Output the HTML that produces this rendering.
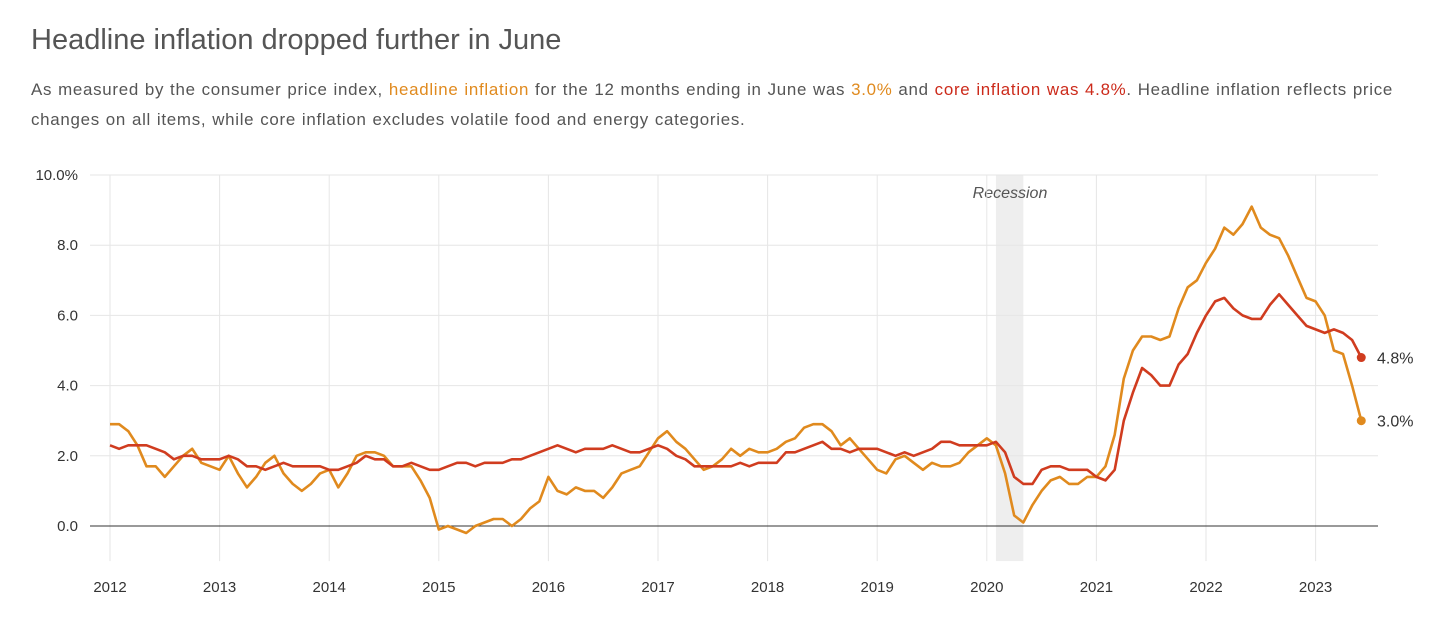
<!DOCTYPE html>
<html><head><meta charset="utf-8"><style>
body{margin:0;background:#fff;font-family:"Liberation Sans",sans-serif;}
#wrap{position:relative;width:1456px;height:628px;overflow:hidden}
h1{position:absolute;left:31px;top:24px;margin:0;font-weight:normal;font-size:29px;color:#555}
p{position:absolute;left:31px;top:75px;margin:0;width:1420px;white-space:nowrap;font-size:16.9px;letter-spacing:0.72px;word-spacing:0.5px;line-height:30px;color:#555}
.h{color:#e08a1e}.c{color:#cc2a1a}
svg{position:absolute;left:0;top:0}
</style></head><body><div id="wrap">
<h1>Headline inflation dropped further in June</h1>
<p>As measured by the consumer price index, <span class="h">headline inflation</span> for the 12 months ending in June was <span class="h">3.0%</span> and <span class="c">core inflation was 4.8%</span>. Headline inflation reflects price<br>changes on all items, while core inflation excludes volatile food and energy categories.</p>
<svg id="chart" width="1456" height="628"></svg>
</div>
<script>
const years=[2012,2013,2014,2015,2016,2017,2018,2019,2020,2021,2022,2023];
const yTicks=[0,2,4,6,8,10];
const yTickLabels=["0.0","2.0","4.0","6.0","8.0","10.0%"];
const headline=[2.9,2.9,2.7,2.3,1.7,1.7,1.4,1.7,2.0,2.2,1.8,1.7,
1.6,2.0,1.5,1.1,1.4,1.8,2.0,1.5,1.2,1.0,1.2,1.5,
1.6,1.1,1.5,2.0,2.1,2.1,2.0,1.7,1.7,1.7,1.3,0.8,
-0.1,0.0,-0.1,-0.2,0.0,0.1,0.2,0.2,0.0,0.2,0.5,0.7,
1.4,1.0,0.9,1.1,1.0,1.0,0.8,1.1,1.5,1.6,1.7,2.1,
2.5,2.7,2.4,2.2,1.9,1.6,1.7,1.9,2.2,2.0,2.2,2.1,
2.1,2.2,2.4,2.5,2.8,2.9,2.9,2.7,2.3,2.5,2.2,1.9,
1.6,1.5,1.9,2.0,1.8,1.6,1.8,1.7,1.7,1.8,2.1,2.3,
2.5,2.3,1.5,0.3,0.1,0.6,1.0,1.3,1.4,1.2,1.2,1.4,
1.4,1.7,2.6,4.2,5.0,5.4,5.4,5.3,5.4,6.2,6.8,7.0,
7.5,7.9,8.5,8.3,8.6,9.1,8.5,8.3,8.2,7.7,7.1,6.5,
6.4,6.0,5.0,4.9,4.0,3.0];
const core=[2.3,2.2,2.3,2.3,2.3,2.2,2.1,1.9,2.0,2.0,1.9,1.9,
1.9,2.0,1.9,1.7,1.7,1.6,1.7,1.8,1.7,1.7,1.7,1.7,
1.6,1.6,1.7,1.8,2.0,1.9,1.9,1.7,1.7,1.8,1.7,1.6,
1.6,1.7,1.8,1.8,1.7,1.8,1.8,1.8,1.9,1.9,2.0,2.1,
2.2,2.3,2.2,2.1,2.2,2.2,2.2,2.3,2.2,2.1,2.1,2.2,
2.3,2.2,2.0,1.9,1.7,1.7,1.7,1.7,1.7,1.8,1.7,1.8,
1.8,1.8,2.1,2.1,2.2,2.3,2.4,2.2,2.2,2.1,2.2,2.2,
2.2,2.1,2.0,2.1,2.0,2.1,2.2,2.4,2.4,2.3,2.3,2.3,
2.3,2.4,2.1,1.4,1.2,1.2,1.6,1.7,1.7,1.6,1.6,1.6,
1.4,1.3,1.6,3.0,3.8,4.5,4.3,4.0,4.0,4.6,4.9,5.5,
6.0,6.4,6.5,6.2,6.0,5.9,5.9,6.3,6.6,6.3,6.0,5.7,
5.6,5.5,5.6,5.5,5.3,4.8];
const recession=[2020+1/12,2020+4/12];
const NS="http://www.w3.org/2000/svg",svg=document.getElementById('chart');
const X=t=>110+(t-2012)*109.6, Y=v=>526-v*35.1;
function mk(tag,at,txt){const e=document.createElementNS(NS,tag);for(const k in at)e.setAttribute(k,at[k]);if(txt!=null)e.textContent=txt;svg.appendChild(e);return e;}
let r=mk('rect',{x:X(recession[0]),y:Y(10),width:X(recession[1])-X(recession[0]),height:Y(-1)-Y(10),fill:'#eee'});


let rt=mk('text',{x:1010,y:198,'text-anchor':'middle','font-size':16,'font-style':'italic',fill:'#555'},'Recession');


yTicks.forEach((v,i)=>{
 if(v>0){let g=mk('line',{x1:90,x2:1378,y1:Y(v),y2:Y(v),stroke:'#e6e6e6'});
 
 }
 let t=mk('text',{x:78,y:Y(v)+5,'text-anchor':'end','font-size':15,fill:'#333'},yTickLabels[i]);
 
 
});
years.forEach(yr=>{
 let g=mk('line',{x1:X(yr),x2:X(yr),y1:Y(10),y2:Y(-1),stroke:'#e6e6e6'});
 
 
 let t=mk('text',{x:X(yr),y:592,'text-anchor':'middle','font-size':15,fill:'#333'},yr);
 
 
});
let z=mk('line',{x1:90,x2:1378,y1:Y(0),y2:Y(0),stroke:'#333'});


function series(d,col,name){
 const pts=d.map((v,i)=>X(2012+i/12).toFixed(1)+','+Y(v).toFixed(1)).join(' ');
 let p=mk('polyline',{points:pts,fill:'none',stroke:col,'stroke-width':2.6,'stroke-linejoin':'round'});
 
 
 const n=d.length-1,cx=X(2012+n/12),cy=Y(d[n]);
 let c=mk('circle',{cx:cx,cy:cy,r:4.5,fill:col});
 
 
 let t=mk('text',{x:1377,y:cy+6,'font-size':16,fill:'#333'},d[n].toFixed(1)+'%');
 
 
}
series(headline,'#e08a1e','headline');
series(core,'#d03c1f','core');
</script></body></html>
